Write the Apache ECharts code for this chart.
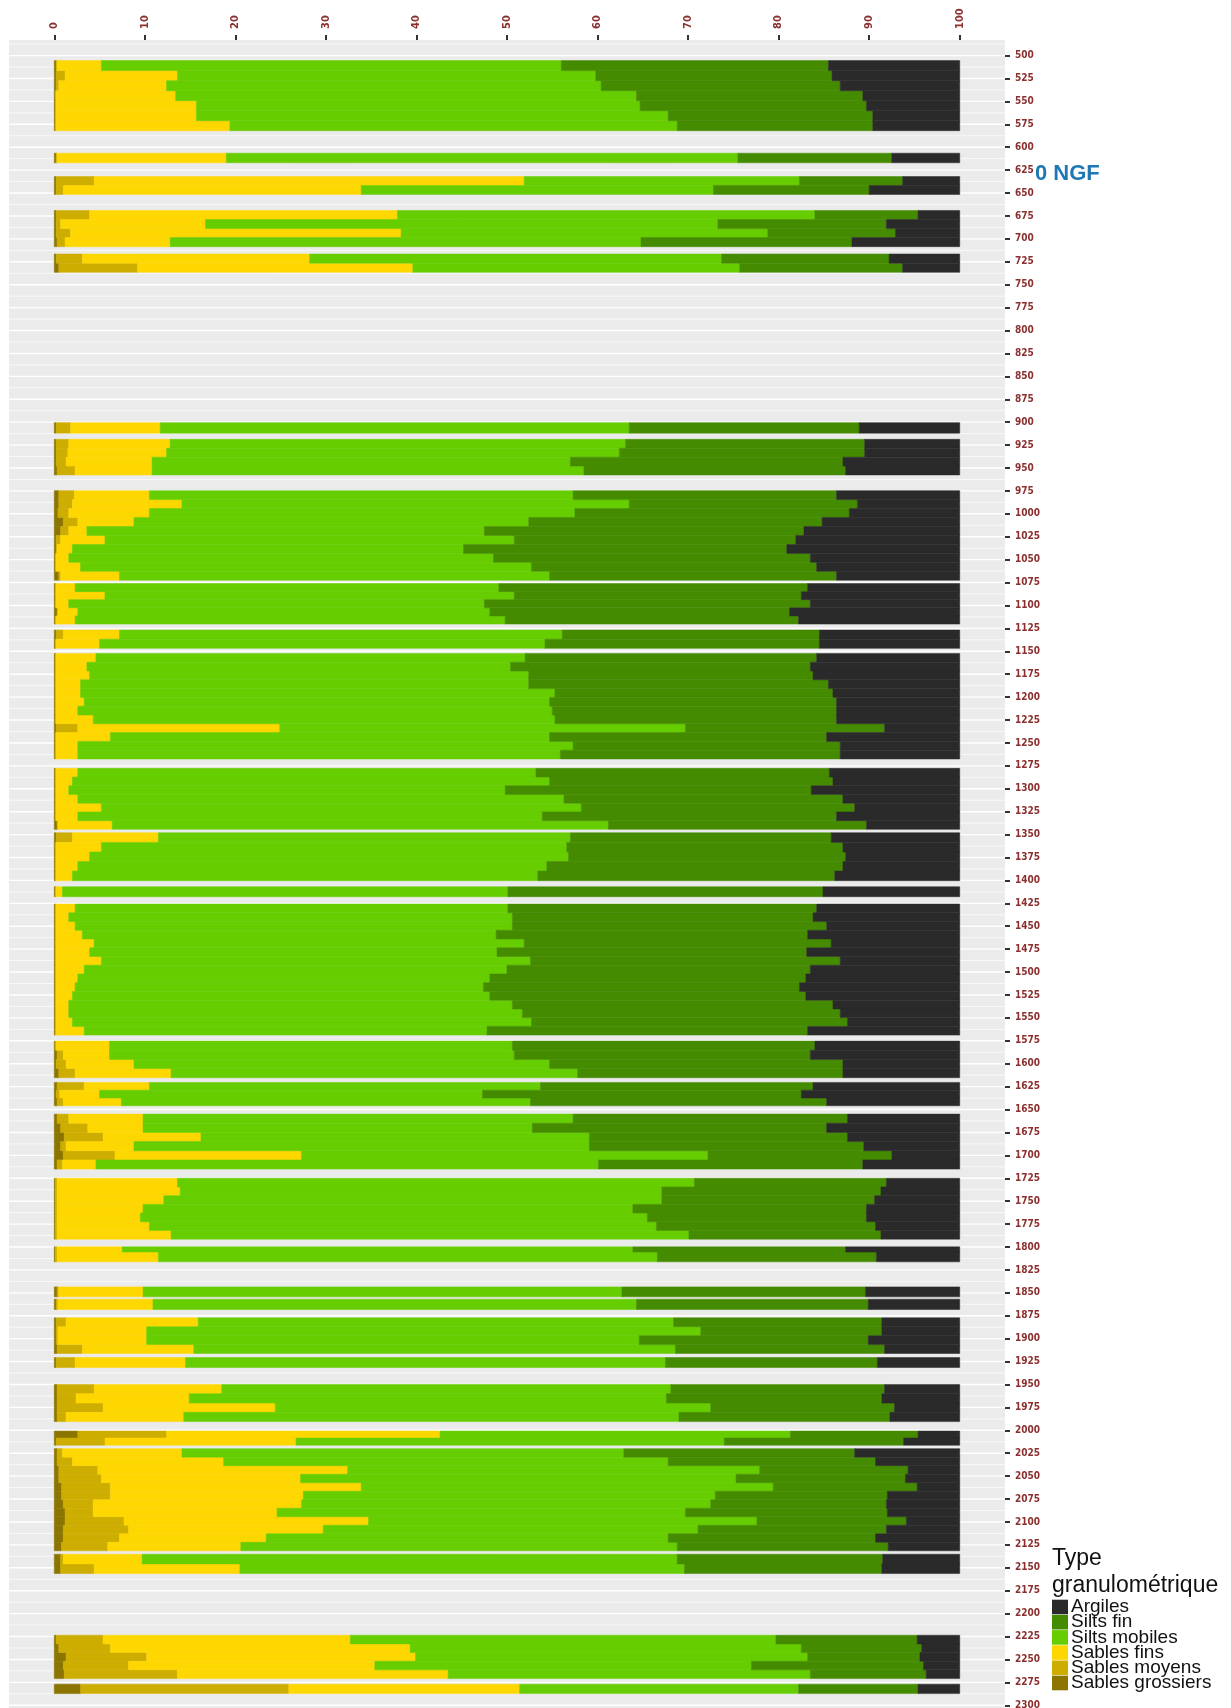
<!DOCTYPE html>
<html>
<head>
<meta charset="utf-8">
<title>Granulométrie</title>
<script src="https://cdn.jsdelivr.net/npm/echarts@6/dist/echarts.min.js"></script>
<style>
  html, body { margin: 0; padding: 0; background: #fff; }
  #chart { width: 1231px; height: 1708px; }
</style>
</head>
<body>
<div id="chart"></div>
<script>
// classes granulométriques, de gauche à droite dans la barre
const classNames = ['Sables grossiers', 'Sables moyens', 'Sables fins', 'Silts mobiles', 'Silts fin', 'Argiles'];
const classColors = ['#8b7500', '#cdad00', '#ffd700', '#66cd00', '#458b00', '#2a2a2a'];

// profondeur (haut / bas) de chaque échantillon
const depthTop = [
  505.5, 516.4, 527.4, 538.3, 549.2, 560.2, 571.1,
  606.5,
  632, 641.7,
  669, 678.9, 688.8, 698.6,
  716.5, 726.5,
  900.5,
  918.7, 928.4, 938.2, 947.9,
  974.7, 984.5, 994.3, 1004.0, 1013.8, 1023.6, 1033.4, 1043.2, 1052.9, 1062.7,
  1076, 1084.9, 1093.7, 1102.6, 1111.4,
  1126.8, 1136.8,
  1152.3, 1161.9, 1171.5, 1181.1, 1190.7, 1200.3, 1209.9, 1219.5, 1229.1, 1238.7, 1248.3, 1257.9,
  1277.7, 1287.2, 1296.7, 1306.2, 1315.8, 1325.3, 1334.8,
  1348, 1358.5, 1368.9, 1379.4, 1389.8,
  1406.9,
  1425.8, 1435.3, 1444.9, 1454.4, 1463.9, 1473.5, 1483.0, 1492.5, 1502.1, 1511.6, 1521.1, 1530.7, 1540.2, 1549.7, 1559.3,
  1575.3, 1585.3, 1595.3, 1605.3,
  1620.4, 1628.9, 1637.4,
  1655, 1665, 1675, 1685, 1695, 1705,
  1725, 1734.5, 1744, 1753.5, 1762.9, 1772.4, 1781.9,
  1799.8, 1805.5,
  1843.5,
  1856.9,
  1877.3, 1887, 1896.8, 1906.5,
  1920.6,
  1950, 1960.1, 1970.3, 1980.4,
  2000.8, 2008.4,
  2020, 2029.3, 2038.6, 2047.9, 2057.2, 2066.5, 2075.8, 2085, 2094.3, 2103.6, 2112.9, 2122.2,
  2135.2, 2145.8,
  2223.6, 2233.1, 2242.5, 2252.0, 2261.4,
  2277
];
const depthBottom = [
  516.4, 527.4, 538.3, 549.2, 560.2, 571.1, 582,
  617,
  641.7, 651.5,
  678.9, 688.8, 698.6, 708.5,
  726.5, 736.5,
  912,
  928.4, 938.2, 947.9, 957.6,
  984.5, 994.3, 1004.0, 1013.8, 1023.6, 1033.4, 1043.2, 1052.9, 1062.7, 1072.5,
  1084.9, 1093.7, 1102.6, 1111.4, 1120.3,
  1136.8, 1146.8,
  1161.9, 1171.5, 1181.1, 1190.7, 1200.3, 1209.9, 1219.5, 1229.1, 1238.7, 1248.3, 1257.9, 1267.5,
  1287.2, 1296.7, 1306.2, 1315.8, 1325.3, 1334.8, 1344.3,
  1358.5, 1368.9, 1379.4, 1389.8, 1400.3,
  1417.8,
  1435.3, 1444.9, 1454.4, 1463.9, 1473.5, 1483.0, 1492.5, 1502.1, 1511.6, 1521.1, 1530.7, 1540.2, 1549.7, 1559.3, 1568.8,
  1585.3, 1595.3, 1605.3, 1615.3,
  1628.9, 1637.4, 1645.9,
  1665, 1675, 1685, 1695, 1705, 1715,
  1734.5, 1744, 1753.5, 1762.9, 1772.4, 1781.9, 1791.4,
  1805.5, 1816.2,
  1854.4,
  1868.2,
  1887, 1896.8, 1906.5, 1916.2,
  1931.5,
  1960.1, 1970.3, 1980.4, 1990.5,
  2008.4, 2016.3,
  2029.3, 2038.6, 2047.9, 2057.2, 2066.5, 2075.8, 2085, 2094.3, 2103.6, 2112.9, 2122.2, 2131.5,
  2145.8, 2156.3,
  2233.1, 2242.5, 2252.0, 2261.4, 2270.9,
  2287.3
];

// pourcentages par classe, même ordre que les profondeurs
const sablesGrossiers = [
  0.2, 0.2, 0.2, 0.1, 0.1, 0.1, 0.1,
  0.2,
  0.2, 0.2,
  0.2, 0.2, 0.2, 0.3,
  0.2, 0.5,
  0.2,
  0.2, 0.2, 0.2, 0.3,
  0.5, 0.5, 0.4, 1.0, 0.7, 0.2, 0.2, 0.1, 0.1, 0.5,
  0.1, 0.1, 0.1, 0.3, 0.1,
  0.2, 0.1,
  0.1, 0.1, 0.1, 0.1, 0.1, 0.1, 0.1, 0.1, 0.2, 0.1, 0.1, 0.1,
  0.1, 0.1, 0.1, 0.1, 0.1, 0.1, 0.3,
  0.2, 0.1, 0.1, 0.1, 0.1,
  0.1,
  0.1, 0.1, 0.1, 0.1, 0.1, 0.1, 0.1, 0.1, 0.1, 0.1, 0.1, 0.1, 0.1, 0.1, 0.1,
  0.1, 0.3, 0.2, 0.5,
  0.3, 0.2, 0.3,
  0.3, 0.7, 1.1, 0.7, 1.0, 0.3,
  0.1, 0.1, 0.1, 0.1, 0.1, 0.1, 0.1,
  0.1, 0.1,
  0.3,
  0.2,
  0.2, 0.2, 0.2, 0.3,
  0.2,
  0.3, 0.3, 0.3, 0.3,
  2.6, 0.2,
  0.3, 0.3, 0.5, 0.5, 0.8, 0.8, 1.0, 1.2, 1.2, 1.0, 1.0, 0.8,
  0.7, 0.7,
  0.2, 0.5, 1.3, 1.0, 1.1,
  2.9
];
const sablesMoyens = [
  0.1, 1.0, 0.3, 0.1, 0.1, 0.1, 0.1,
  0.1,
  4.2, 0.8,
  3.7, 0.5, 1.6, 0.9,
  2.9, 8.7,
  1.6,
  1.4, 1.3, 1.1, 2.0,
  1.7, 1.5, 1.2, 1.6, 0.9, 0.5, 0.1, 0.1, 0.1, 0.2,
  0.1, 0.1, 0.1, 0.1, 0.1,
  0.8, 0.1,
  0.1, 0.1, 0.1, 0.1, 0.1, 0.1, 0.1, 0.1, 2.4, 0.1, 0.1, 0.1,
  0.1, 0.1, 0.1, 0.1, 0.1, 0.1, 0.1,
  1.8, 0.1, 0.1, 0.1, 0.1,
  0.1,
  0.1, 0.1, 0.1, 0.1, 0.1, 0.1, 0.1, 0.1, 0.1, 0.1, 0.1, 0.1, 0.1, 0.1, 0.1,
  0.1, 0.7, 1.1, 1.8,
  3.0, 0.4, 0.7,
  1.3, 3.0, 4.3, 0.6, 5.7, 0.6,
  0.2, 0.2, 0.2, 0.2, 0.2, 0.2, 0.2,
  0.2, 0.2,
  0.2,
  0.2,
  1.1, 0.2, 0.2, 2.8,
  2.1,
  4.1, 2.1, 5.1, 1.0,
  9.8, 5.4,
  0.6, 1.7, 4.3, 4.7, 5.4, 5.4, 3.3, 3.1, 6.5, 7.2, 6.2, 5.1,
  0.3, 3.7,
  5.2, 5.7, 8.9, 7.2, 12.5,
  23.0
];
const sablesFins = [
  4.9, 12.4, 11.9, 13.2, 15.5, 15.5, 19.2,
  18.7,
  47.5, 32.9,
  34.0, 16.0, 36.5, 11.6,
  25.1, 30.4,
  9.9,
  11.2, 10.9, 9.5, 8.5,
  8.3, 12.1, 8.9, 6.2, 2.0, 4.9, 1.7, 1.4, 2.7, 6.5,
  2.1, 5.4, 1.4, 2.2, 2.1,
  6.2, 4.8,
  4.4, 3.4, 3.7, 2.7, 2.7, 3.1, 2.4, 4.1, 22.3, 6.0, 2.4, 2.4,
  2.4, 1.8, 1.4, 2.4, 5.0, 2.4, 6.0,
  9.5, 5.0, 3.7, 2.4, 1.8,
  0.7,
  2.1, 1.4, 2.1, 2.9, 4.2, 3.7, 5.0, 3.1, 2.4, 2.1, 1.8, 1.4, 1.4, 1.8, 3.1,
  5.9, 5.1, 7.5, 10.6,
  7.2, 4.4, 6.4,
  8.2, 6.1, 10.8, 7.5, 20.6, 3.7,
  13.3, 13.6, 11.8, 9.5, 9.2, 10.2, 12.6,
  7.2, 11.2,
  9.3,
  10.5,
  14.6, 9.8, 9.8, 12.3,
  12.2,
  14.1, 12.5, 19.0, 13.0,
  30.2, 21.1,
  13.2, 16.7, 27.6, 22.0, 27.7, 21.3, 23.0, 20.3, 27.0, 21.5, 16.2, 14.7,
  8.7, 16.1,
  27.3, 33.1, 29.7, 27.2, 29.9,
  25.5
];
const siltsMobiles = [
  50.8, 46.2, 48.0, 50.9, 49.0, 52.1, 49.4,
  56.5,
  30.4, 38.9,
  46.1, 56.6, 40.5, 52.0,
  45.5, 36.1,
  51.8,
  50.3, 50.0, 46.2, 47.7,
  46.8, 49.4, 47.0, 43.6, 43.9, 45.2, 43.2, 46.9, 49.8, 47.5,
  46.8, 45.2, 45.9, 45.5, 47.5,
  48.9, 49.2,
  47.4, 46.8, 48.5, 49.5, 52.4, 51.4, 52.4, 51.0, 44.8, 48.5, 54.7, 53.3,
  50.6, 52.7, 48.2, 53.7, 53.0, 51.3, 54.8,
  45.5, 51.4, 52.9, 51.8, 51.4,
  49.2,
  47.8, 49.0, 48.3, 45.7, 47.5, 45.0, 47.4, 46.7, 45.5, 45.1, 46.1, 49.0, 50.1, 50.7, 44.5,
  44.5, 44.7, 45.9, 44.9,
  43.2, 42.3, 45.2,
  47.5, 43.0, 42.9, 50.3, 44.9, 55.5,
  57.1, 53.2, 55.0, 54.1, 56.0, 56.0, 57.2,
  56.4, 55.1,
  52.9,
  53.4,
  52.5, 61.2, 54.4, 53.2,
  53.0,
  49.6, 52.7, 48.1, 54.7,
  38.7, 47.3,
  48.8, 49.1, 45.5, 48.1, 45.5, 45.5, 45.2, 45.1, 42.9, 41.4, 44.4, 48.2,
  59.1, 49.1,
  47.0, 43.2, 43.3, 41.6, 40.0,
  30.8
];
const siltsFin = [
  29.5, 26.1, 26.4, 25.0, 25.0, 22.6, 21.6,
  17.0,
  11.4, 17.2,
  11.4, 18.6, 14.1, 23.3,
  18.5, 18.0,
  25.4,
  26.4, 27.1, 30.1, 28.9,
  29.1, 25.2, 30.3, 32.4, 35.3, 31.1, 35.7, 35.0, 31.5, 31.7,
  34.1, 31.7, 36.0, 33.1, 32.4,
  28.4, 30.3,
  32.2, 33.1, 31.4, 33.1, 30.7, 31.7, 31.4, 31.1, 22.0, 30.6, 29.5, 30.9,
  32.4, 31.3, 33.8, 30.8, 30.2, 32.5, 28.5,
  28.8, 30.5, 30.6, 32.7, 32.8,
  34.8,
  34.1, 33.2, 34.7, 34.4, 33.9, 34.2, 34.2, 33.5, 34.9, 34.9, 34.9, 35.4, 35.1, 34.9, 35.4,
  33.4, 32.7, 32.4, 29.3,
  30.1, 35.2, 32.7,
  30.3, 32.5, 28.5, 30.3, 20.3, 29.2,
  21.2, 24.2, 23.5, 25.8, 24.2, 24.2, 21.2,
  23.5, 24.2,
  26.9,
  25.6,
  23.0, 20.0, 25.3, 23.1,
  23.4,
  23.6, 23.8, 20.3, 23.3,
  14.1, 19.8,
  25.5, 22.9, 16.4, 18.7, 15.9, 19.0, 19.4, 22.3, 16.5, 20.8, 22.9, 23.3,
  22.7, 21.8,
  15.6, 13.3, 12.4, 19.0, 12.8,
  13.2
];
const argiles = [
  14.5, 14.1, 13.2, 10.7, 10.3, 9.6, 9.6,
  7.5,
  6.3, 10.0,
  4.6, 8.1, 7.1, 11.9,
  7.8, 6.3,
  11.1,
  10.5, 10.5, 12.9, 12.6,
  13.6, 11.3, 12.2, 15.2, 17.2, 18.1, 19.1, 16.5, 15.8, 13.6,
  16.8, 17.5, 16.5, 18.8, 17.8,
  15.5, 15.5,
  15.8, 16.5, 16.2, 14.5, 14.0, 13.6, 13.6, 13.6, 8.3, 14.7, 13.2, 13.2,
  14.4, 14.0, 16.4, 12.9, 11.6, 13.6, 10.3,
  14.2, 12.9, 12.6, 12.9, 13.8,
  15.1,
  15.8, 16.2, 14.7, 16.8, 14.2, 16.9, 13.2, 16.5, 17.0, 17.7, 17.0, 14.0, 13.2, 12.4, 16.8,
  16.0, 16.5, 12.9, 12.9,
  16.2, 17.5, 14.7,
  12.4, 14.7, 12.4, 10.6, 7.5, 10.7,
  8.1, 8.7, 9.4, 10.3, 10.3, 9.3, 8.7,
  12.6, 9.2,
  10.4,
  10.1,
  8.6, 8.6, 10.1, 8.3,
  9.1,
  8.3, 8.6, 7.2, 7.7,
  4.6, 6.2,
  11.6, 9.3, 5.7, 6.0, 4.7, 8.0, 8.1, 8.0, 5.9, 8.1, 9.3, 7.9,
  8.5, 8.6,
  4.7, 4.2, 4.4, 4.0, 3.7,
  4.6
];

const classValues = [sablesGrossiers, sablesMoyens, sablesFins, siltsMobiles, siltsFin, argiles];

// graduations
const pctTicks = [0, 10, 20, 30, 40, 50, 60, 70, 80, 90, 100];
const depthTicks = [];
for (let d = 500; d <= 2300; d += 25) depthTicks.push(d);
const gridDepths = [];
for (let d = 487.5; d <= 2300; d += 12.5) gridDepths.push([0, d, d % 25 === 0 ? 1 : 0]);

// empilement : chaque tranche = [debut, fin, haut, bas]
const stacked = classNames.map(() => []);
for (let i = 0; i < depthTop.length; i++) {
  let cum = 0;
  for (let k = 0; k < classNames.length; k++) {
    const start = cum;
    cum += classValues[k][i];
    stacked[k].push([start, cum, depthTop[i], depthBottom[i]]);
  }
}

function renderSlice(params, api) {
  const p0 = api.coord([api.value(0), api.value(2)]);
  const p1 = api.coord([api.value(1), api.value(3)]);
  const color = api.visual('color');
  return {
    type: 'rect',
    shape: { x: p0[0], y: p0[1], width: p1[0] - p0[0], height: p1[1] - p0[1] },
    style: { fill: color, stroke: color, lineWidth: 0.5 }
  };
}

function renderGridLine(params, api) {
  const y = api.coord([0, api.value(1)])[1];
  const cs = params.coordSys;
  return {
    type: 'line',
    shape: { x1: cs.x, y1: y, x2: cs.x + cs.width, y2: y },
    style: { stroke: '#ffffff', lineWidth: api.value(2) ? 1.4 : 0.7 }
  };
}

const labelColor = '#8b2f2f';
const labelFont = '"DejaVu Sans Condensed", "Liberation Sans Narrow", sans-serif';
const textFont = '"Liberation Sans", Arial, sans-serif';

// légende dessinée à la main (carrés serrés comme dans l'original)
const legendGraphics = [
  { type: 'text', left: 1052, top: 1547, style: { text: 'Type', fill: '#111', font: '23px ' + textFont } },
  { type: 'text', left: 1052, top: 1574, style: { text: 'granulométrique', fill: '#111', font: '23px ' + textFont } }
];
classNames.slice().reverse().forEach((name, i) => {
  const color = classColors[classNames.length - 1 - i];
  const cy = 1607 + i * 15.2;
  legendGraphics.push({ type: 'rect', left: 1052, top: cy - 7.3, shape: { width: 16, height: 14.6 }, style: { fill: color } });
  legendGraphics.push({ type: 'text', x: 1071, y: cy, style: { text: name, fill: '#111', font: '19px ' + textFont, verticalAlign: 'middle' } });
});

const chart = echarts.init(document.getElementById('chart'));

const series = [{
  name: 'grille',
  type: 'custom',
  silent: true,
  z: 1,
  clip: true,
  renderItem: renderGridLine,
  encode: { x: 0, y: 1 },
  data: gridDepths
}];
classNames.forEach((name, k) => {
  series.push({
    name: name,
    type: 'custom',
    z: 3,
    clip: true,
    itemStyle: { color: classColors[k] },
    renderItem: renderSlice,
    encode: { x: [0, 1], y: [2, 3] },
    data: stacked[k]
  });
});

chart.setOption({
  animation: false,
  grid: {
    left: 9, right: 226, top: 40, bottom: 0,
    show: true, backgroundColor: '#ebebeb', borderWidth: 0,
    outerBoundsMode: 'none'
  },
  xAxis: {
    type: 'value',
    position: 'top',
    min: -5,
    max: 105,
    axisLine: { show: false, onZero: false },
    splitLine: { show: false },
    axisTick: { show: true, customValues: pctTicks, length: 5, lineStyle: { color: '#333', width: 2 } },
    axisLabel: {
      customValues: pctTicks, rotate: -90, margin: 11, color: labelColor, fontFamily: labelFont,
      fontSize: 11, fontWeight: 'bold'
    }
  },
  yAxis: {
    type: 'value',
    position: 'right',
    inverse: true,
    min: 483,
    max: 2303,
    axisLine: { show: false, onZero: false },
    splitLine: { show: false },
    axisTick: { show: true, customValues: depthTicks, length: 5, lineStyle: { color: '#333', width: 2 } },
    axisLabel: {
      customValues: depthTicks, margin: 10, color: labelColor, fontFamily: labelFont,
      fontSize: 10, fontWeight: 'bold',
      formatter: v => String(v)
    }
  },
  graphic: [
    { type: 'text', left: 1035, top: 163, style: { text: '0 NGF', fill: '#1f78b4', font: 'bold 22px ' + textFont } }
  ].concat(legendGraphics),
  series: series
});
</script>
</body>
</html>
